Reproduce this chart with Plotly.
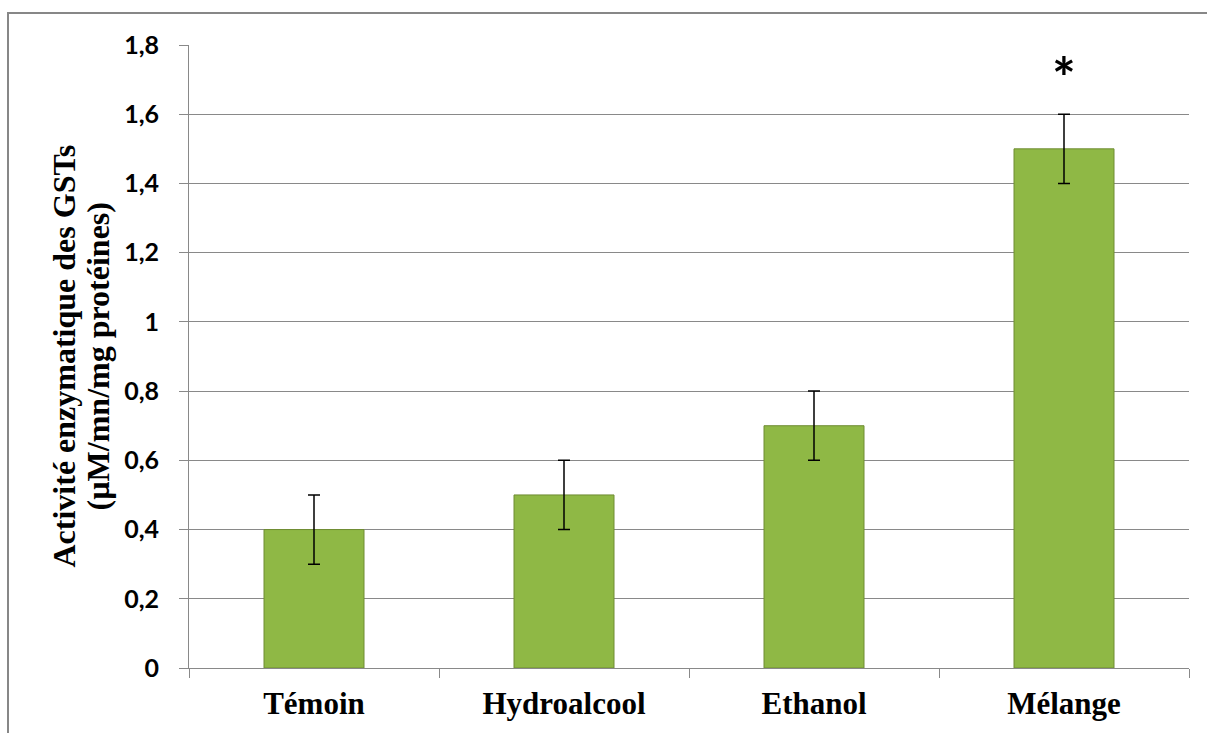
import plotly.graph_objects as go

# Activité enzymatique des GSTs par traitement
categories = ["Témoin", "Hydroalcool", "Ethanol", "Mélange"]
activite = [0.4, 0.5, 0.7, 1.5]
erreur = [0.1, 0.1, 0.1, 0.1]
y_ticks = [0, 0.2, 0.4, 0.6, 0.8, 1.0, 1.2, 1.4, 1.6, 1.8]
signif_cat = "Mélange"
signif_y = 1.71
signif_label = "*"

grid_col = "#898989"

fig = go.Figure()
fig.add_trace(go.Bar(
    x=categories,
    y=activite,
    marker=dict(color="#8fb845", line=dict(color="#6f8c32", width=1)),
    error_y=dict(type="data", array=erreur, visible=True,
                 color="black", thickness=1.5, width=6),
    showlegend=False,
))

# significance marker
fig.add_annotation(x=signif_cat, y=signif_y, text="<b>" + signif_label + "</b>",
                   showarrow=False, xref="x", yref="y", yanchor="middle",
                   font=dict(family="Lato", size=56, color="black"))

# y-axis title, two lines
fig.add_annotation(text="<b>Activité enzymatique des GSTs</b>", textangle=-90,
                   xref="paper", yref="paper", x=-0.126, y=0.50,
                   xanchor="center", yanchor="middle", showarrow=False,
                   font=dict(family="Liberation Serif", size=32, color="black"))
fig.add_annotation(text="<b>(µM/mn/mg protéines)</b>", textangle=-90,
                   xref="paper", yref="paper", x=-0.092, y=0.50,
                   xanchor="center", yanchor="middle", showarrow=False,
                   font=dict(family="Liberation Serif", size=32, color="black"))

# outer chart frame
fig.add_shape(type="rect", xref="paper", yref="paper",
              x0=-0.181, x1=1.03, y0=-0.13, y1=1.0514,
              line=dict(color="#878787", width=2), layer="below")

fig.update_layout(
    width=1207, height=733,
    margin=dict(l=189, r=18, t=45, b=65),
    paper_bgcolor="white", plot_bgcolor="white",
    bargap=0.6,
    separators=", ",
    xaxis=dict(
        type="category",
        showline=True, linecolor=grid_col, linewidth=1,
        ticks="outside", tickson="boundaries", ticklen=9, tickcolor=grid_col,
        tickfont=dict(family="Liberation Serif", size=31, color="black", weight="bold"),
        ticklabelstandoff=8,
        showgrid=False,
    ),
    yaxis=dict(
        range=[0, 1.8], tickvals=y_ticks,
        showline=True, linecolor=grid_col, linewidth=1,
        ticks="outside", ticklen=9, tickcolor=grid_col,
        showgrid=True, gridcolor=grid_col, gridwidth=1,
        zeroline=False,
        tickfont=dict(family="Lato", size=25, color="black", weight="bold"),
        ticklabelstandoff=15,
    ),
)

fig.write_html("out.html")
